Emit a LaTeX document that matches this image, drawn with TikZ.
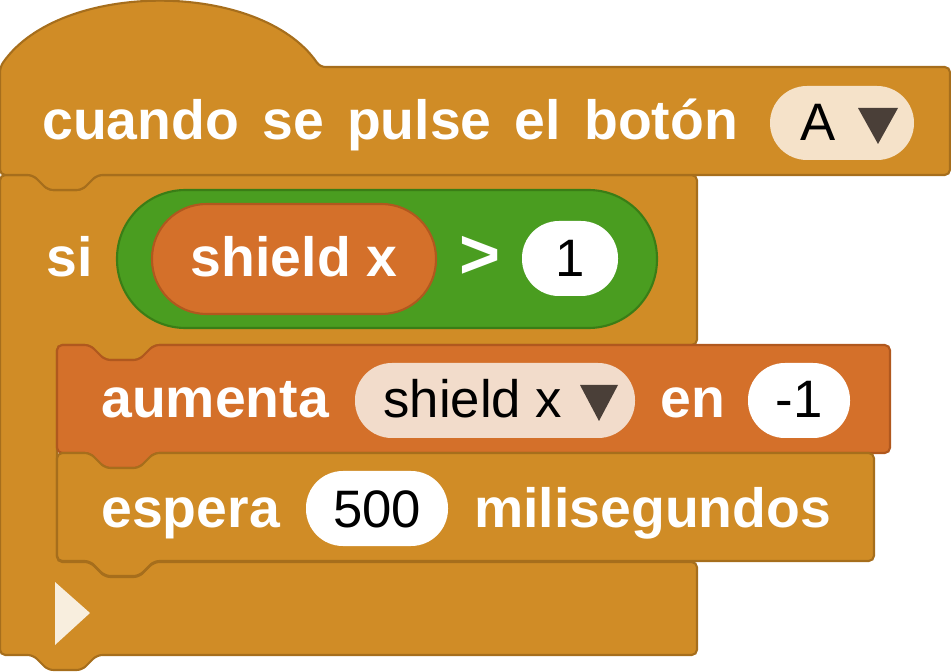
\documentclass[tikz,border=0pt]{standalone}
\usepackage{fontspec}
\setmainfont{Liberation Sans}
\definecolor{ctrl}{HTML}{D08C26}
\definecolor{ctrlline}{HTML}{A66E1C}
\definecolor{var}{HTML}{D4702A}
\definecolor{varline}{HTML}{B0581E}
\definecolor{op}{HTML}{4A9D20}
\definecolor{opline}{HTML}{3A7D16}
\definecolor{dropA}{HTML}{F5E2C9}
\definecolor{dropV}{HTML}{F2DCCB}
\definecolor{arrowdk}{HTML}{4A3F38}
\begin{document}
\begin{tikzpicture}[x=0.02cm, y=-0.02cm,
    blockline/.style={draw=ctrlline, line width=1.2pt, rounded corners=3pt},
    word/.style={text=white, font=\fontsize{31.5}{31.5}\selectfont\bfseries, anchor=base west, inner sep=0pt},
    field/.style={text=black, font=\fontsize{30}{30}\selectfont, anchor=base, inner sep=0pt}]
\useasboundingbox (0,0) rectangle (951,672);
% si block
\draw[blockline, fill=ctrl] (0,175) -- (33,175) -- (48,190) -- (82,190) -- (97,175) -- (697,175) -- (697,345)
    -- (154,345) -- (139,360) -- (105,360) -- (90,345) -- (57,345) -- (57,562) -- (90,562) -- (105,577)
    -- (139,577) -- (154,562) -- (697,562) -- (697,655) -- (97,655) -- (82,670) -- (48,670) -- (33,655)
    -- (0,655) -- cycle;
% hat block
\draw[blockline, fill=ctrl] (0,175) -- (0,67) .. controls (60,-20) and (260,-20) .. (320,67) -- (950,67)
    -- (950,175) -- (97,175) -- (82,190) -- (48,190) -- (33,175) -- cycle;
% aumenta block
\draw[blockline, draw=varline, fill=var] (57,345) -- (90,345) -- (105,360) -- (139,360) -- (154,345) -- (890,345)
    -- (890,453) -- (154,453) -- (139,468) -- (105,468) -- (90,453) -- (57,453) -- cycle;
% espera block
\draw[blockline, fill=ctrl] (57,453) -- (90,453) -- (105,468) -- (139,468) -- (154,453) -- (874,453)
    -- (874,561) -- (154,561) -- (139,576) -- (105,576) -- (90,561) -- (57,561) -- cycle;
% hat texts
\node[word] (cuando) at (42,140) {cuando\hspace{0.42em}se\hspace{0.42em}pulse\hspace{0.42em}el\hspace{0.42em}botón};
\fill[dropA, rounded corners=21pt] (770,86) rectangle (914,160);
\node[field] (btnA) at (818,141) {A};
\fill[arrowdk] (858,108) -- (898,108) -- (878,144) -- cycle;
% condition
\node[word] (si) at (46,277) {si};
\draw[opline, fill=op, line width=1.2pt, rounded corners=39pt] (117,190) rectangle (657,328);
\draw[varline, fill=var, line width=1.2pt, rounded corners=31pt] (152,204) rectangle (436,314);
\node[word, anchor=base] (shx) at (294,277) {shield x};
\node[word, anchor=base, font=\fontsize{40}{40}\selectfont\bfseries] (gt) at (480,279) {>};
\fill[white, rounded corners=21pt] (522,221) rectangle (618,296);
\node[field] (one) at (570,277) {1};
% aumenta
\node[word] (aumenta) at (101,418) {aumenta};
\fill[dropV, rounded corners=21pt] (355,363) rectangle (635,438);
\node[field, anchor=base west] (shdrop) at (383,418) {shield x};
\fill[arrowdk] (580,385) -- (618,385) -- (599,421) -- cycle;
\node[word] (en) at (660,418) {en};
\fill[white, rounded corners=21pt] (748,363) rectangle (850,438);
\node[field] (minus) at (799,418) {-1};
% espera
\node[word] (espera) at (101,527) {espera};
\fill[white, rounded corners=21pt] (306,471) rectangle (448,546);
\node[field] (ms) at (377,527) {500};
\node[word] (mili) at (474,527) {milisegundos};
% end arrow
\fill[white!85!ctrl] (55,582) -- (90,613) -- (55,645) -- cycle;
\end{tikzpicture}
\end{document}
